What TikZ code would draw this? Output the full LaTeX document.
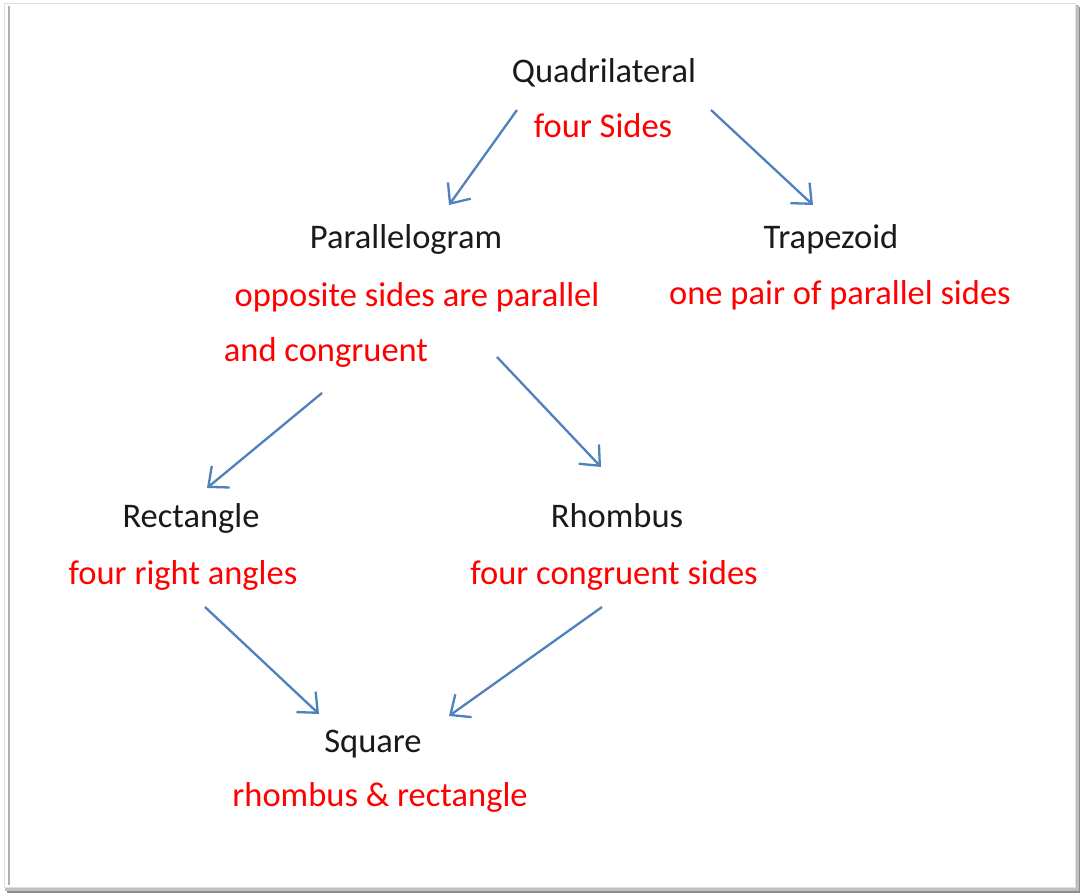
\documentclass[tikz,border=0pt]{standalone}
\usepackage{fontspec}
\setmainfont{Carlito}
\usetikzlibrary{arrows.meta}
\definecolor{arrowblue}{HTML}{4F81BD}
\definecolor{txtred}{HTML}{FF0000}
\definecolor{txtblack}{HTML}{1A1A1A}
\tikzset{
  lbl/.style={font=\fontsize{34.5}{40}\selectfont, text=txtblack, inner sep=0pt, text height=0.66em, text depth=0pt, yshift=-8pt},
  note/.style={lbl, text=txtred},
  conn/.style={draw=arrowblue, line width=2.3pt, -{Straight Barb[length=16pt, width=28pt, line width=2.3pt]}}
}
\begin{document}
\begin{tikzpicture}[x=1pt,y=-1pt]
\useasboundingbox (0,0) rectangle (1080,893);
% frame with shadow
\fill[black!45] (7,7) rectangle (1080,893);
\fill[black!25] (5,5) rectangle (1079,891);
\fill[white] (4,4) rectangle (1075,887);
\draw[black!12, line width=1pt] (4,4) rectangle (1075,887);
\draw[black!30, line width=2pt] (9,6) -- (9,885);
% texts
\node[lbl] (quad) at (604,71) {Quadrilateral};
\node[note] (quadn) at (603,126) {four Sides};
\node[lbl] (para) at (406,237) {Parallelogram};
\node[note] (paran1) at (417,295) {opposite sides are parallel};
\node[note] (paran2) at (326,350) {and congruent};
\node[lbl] (trap) at (831,237) {Trapezoid};
\node[note] (trapn) at (840,293) {one pair of parallel sides};
\node[lbl] (rect) at (191,516) {Rectangle};
\node[note] (rectn) at (183,573) {four right angles};
\node[lbl] (rhom) at (617,516) {Rhombus};
\node[note] (rhomn) at (614,573) {four congruent sides};
\node[lbl] (sq) at (373,741) {Square};
\node[note] (sqn) at (380,795) {rhombus \& rectangle};
% connector end points
\coordinate (a1s) at (517,110); \coordinate (a1e) at (449,205);
\coordinate (a2s) at (711,110); \coordinate (a2e) at (813,205);
\coordinate (a3s) at (322,393); \coordinate (a3e) at (207,488);
\coordinate (a4s) at (497,357); \coordinate (a4e) at (601,467);
\coordinate (a5s) at (205,607); \coordinate (a5e) at (319,714);
\coordinate (a6s) at (602,607); \coordinate (a6e) at (449,716);
\draw[conn] (a1s) -- (a1e);
\draw[conn] (a2s) -- (a2e);
\draw[conn] (a3s) -- (a3e);
\draw[conn] (a4s) -- (a4e);
\draw[conn] (a5s) -- (a5e);
\draw[conn] (a6s) -- (a6e);
\end{tikzpicture}
\end{document}
